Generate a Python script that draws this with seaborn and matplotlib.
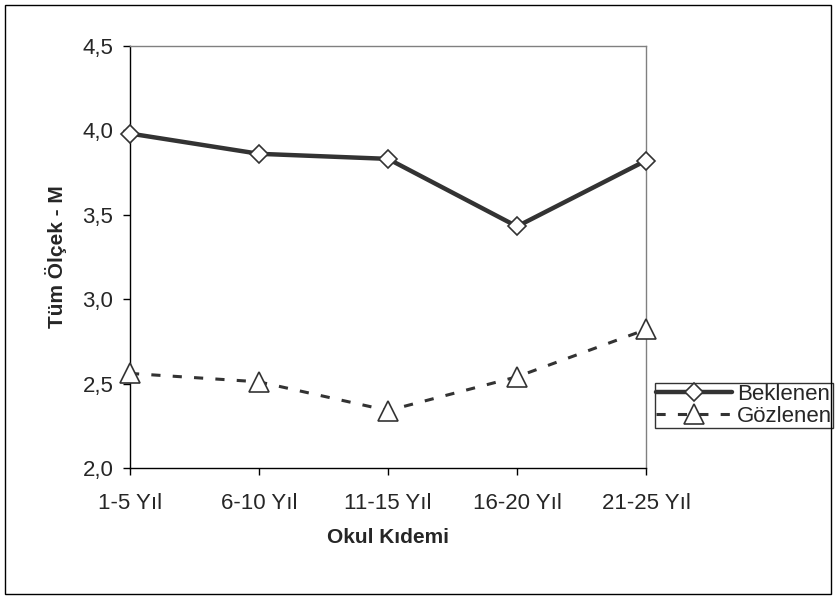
import matplotlib
matplotlib.use("Agg")
import matplotlib.pyplot as plt
import seaborn as sns
import pandas as pd
from matplotlib.patches import Rectangle

categories = ["1-5 Yıl", "6-10 Yıl", "11-15 Yıl", "16-20 Yıl", "21-25 Yıl"]
beklenen = [3.98, 3.86, 3.83, 3.43, 3.82]
gozlenen = [2.56, 2.51, 2.34, 2.54, 2.82]
y_ticks = [2.0, 2.5, 3.0, 3.5, 4.0, 4.5]
y_tick_labels = ["2,0", "2,5", "3,0", "3,5", "4,0", "4,5"]

sns.set_style("white")
plt.rcParams["font.family"] = ["Liberation Sans", "DejaVu Sans"]

fig = plt.figure(figsize=(8.36, 5.99), dpi=100)
ax = fig.add_axes([130/836, 1-468/599, (646-130)/836, (468-45.7)/599])

df_b = pd.DataFrame({"x": categories, "y": beklenen})
df_g = pd.DataFrame({"x": categories, "y": gozlenen})

sns.lineplot(data=df_b, x="x", y="y", sort=False, ax=ax, color="#333333",
             linewidth=3.2, marker="D", markersize=9.5, markerfacecolor="white",
             markeredgecolor="#333333", markeredgewidth=1.2, label="Beklenen",
             clip_on=False, zorder=3)
sns.lineplot(data=df_g, x="x", y="y", sort=False, ax=ax, color="#333333",
             linewidth=2.2, linestyle=(0, (3, 4)), marker="^", markersize=14,
             markerfacecolor="white", markeredgecolor="#333333",
             markeredgewidth=1.2, label="Gözlenen", clip_on=False, zorder=3)

ax.set_xlim(0, len(categories) - 1)
ax.set_ylim(2.0, 4.5)
ax.set_yticks(y_ticks)
ax.set_yticklabels(y_tick_labels)
ax.set_xticks(range(len(categories)))
ax.set_xticklabels(categories)
ax.tick_params(axis="both", labelsize=16, direction="out", length=5,
               width=1, color="#000000", left=True, bottom=True)
ax.tick_params(axis="y", pad=7)
ax.tick_params(axis="x", pad=13)

for s in ["left", "bottom"]:
    ax.spines[s].set_color("#000000")
    ax.spines[s].set_linewidth(1)
for s in ["top", "right"]:
    ax.spines[s].set_color("#808080")
    ax.spines[s].set_linewidth(1)

ax.set_xlabel("Okul Kıdemi", fontsize=15, fontweight="bold", labelpad=10)
ax.set_ylabel("Tüm Ölçek - M", fontsize=15, fontweight="bold", labelpad=11)

leg = ax.legend(loc="upper left", bbox_to_anchor=(655/836, 1-383/599),
                bbox_transform=fig.transFigure, fontsize=16, frameon=True,
                fancybox=False, edgecolor="#000000", handlelength=3.4,
                handletextpad=0.25, borderpad=0.05, labelspacing=0.05,
                borderaxespad=0)
leg.get_frame().set_linewidth(1)

fig.patches.append(Rectangle((5/836, 5/599), 826/836, 589/599, transform=fig.transFigure,
                             fill=False, edgecolor="#000000", linewidth=1))

fig.savefig("out.png", dpi=100)
